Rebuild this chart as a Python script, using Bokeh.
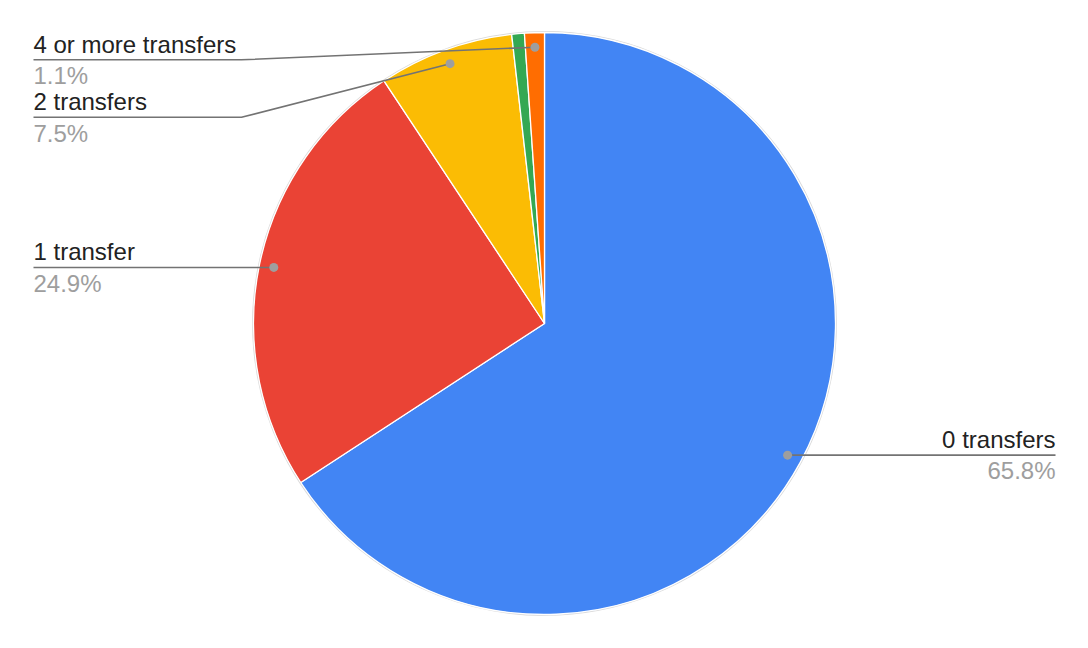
import numpy as np
from bokeh.plotting import figure
from bokeh.models import Range1d, ColumnDataSource
from bokeh.embed import file_html
from bokeh.resources import INLINE
from bokeh.core.properties import value

# ---- data ----
categories = ["0 transfers", "1 transfer", "2 transfers", "3 transfers", "4 or more transfers"]
shares = [65.8, 24.9, 7.5, 0.7, 1.1]
colors = ["#4285F4", "#EA4335", "#FBBC04", "#34A853", "#FF6D01"]
pct_labels = ["65.8%", "24.9%", "7.5%", "0.7%", "1.1%"]
shown = [True, True, True, False, True]

# ---- layout ----
W, H = 1072, 632
CX, CY, R = 544.0, 325.0, 291.0
DOT_R = 0.95 * R
FONT = value("Liberation Sans")
TXT_SHIFT = 8.0

p = figure(width=W, height=H, x_range=Range1d(0, 1072), y_range=Range1d(16, 648),
           output_backend="svg", toolbar_location=None, min_border=0,
           x_axis_location=None, y_axis_location=None)
p.grid.visible = False
p.outline_line_color = None
p.background_fill_color = "white"
p.border_fill_color = "white"

vals = np.array(shares, dtype=float)
frac = vals / vals.sum()
c1 = np.cumsum(frac)
c0 = c1 - frac
start = np.pi / 2 - 2 * np.pi * c0
end = np.pi / 2 - 2 * np.pi * c1
mid = (start + end) / 2

src = ColumnDataSource(dict(x=[CX] * len(vals), y=[CY] * len(vals),
                            start=start, end=end, color=colors))
p.circle(x=[CX], y=[CY], radius=R + 0.8, fill_color=None, line_color="#dadada", line_width=1.2)
p.wedge(x="x", y="y", radius=R, start_angle="start", end_angle="end", direction="clock",
        fill_color="color", line_color="white", line_width=1.3, source=src)

dot_x = CX + DOT_R * np.cos(mid)
dot_y = CY + DOT_R * np.sin(mid)

LEFT_X, LEFT_BEND = 33.0, 241.0
RIGHT_X = 1055.0
TOP_LIMIT = 648 - 59.3
SPACING = 57.5

idx = [i for i in range(len(vals)) if shown[i]]
left = sorted([i for i in idx if dot_x[i] < CX], key=lambda i: -dot_y[i])
right = [i for i in idx if dot_x[i] >= CX]

line_xs, line_ys = [], []
lab_x, lab_y, lab_t, lab_align = [], [], [], []
pct_x, pct_y, pct_t = [], [], []

prev = None
for i in left:
    ly = min(dot_y[i], TOP_LIMIT if prev is None else prev - SPACING)
    prev = ly
    if abs(ly - dot_y[i]) < 0.5:
        line_xs.append([LEFT_X, dot_x[i]]); line_ys.append([ly, dot_y[i]])
    else:
        line_xs.append([LEFT_X, LEFT_BEND, dot_x[i]]); line_ys.append([ly, ly, dot_y[i]])
    lab_x.append(LEFT_X); lab_y.append(ly + 7.6 + TXT_SHIFT); lab_t.append(categories[i]); lab_align.append("left")
    pct_x.append(LEFT_X); pct_y.append(ly - 24.0 + TXT_SHIFT); pct_t.append(pct_labels[i])

for i in right:
    ly = dot_y[i]
    line_xs.append([dot_x[i], RIGHT_X]); line_ys.append([ly, ly])
    lab_x.append(RIGHT_X); lab_y.append(ly + 7.6 + TXT_SHIFT); lab_t.append(categories[i]); lab_align.append("right")
    pct_x.append(RIGHT_X); pct_y.append(ly - 23.0 + TXT_SHIFT); pct_t.append(pct_labels[i])

p.multi_line(xs=line_xs, ys=line_ys, line_color="#737373", line_width=1.6)
p.scatter(x=[dot_x[i] for i in idx], y=[dot_y[i] for i in idx], size=9,
          fill_color="#9e9e9e", line_color=None)

lab_src = ColumnDataSource(dict(x=lab_x, y=lab_y, t=lab_t, a=lab_align))
p.text(x="x", y="y", text="t", text_align="a", text_baseline="alphabetic",
       text_font=FONT, text_font_size="24px", text_color="#222222", source=lab_src)
pct_src = ColumnDataSource(dict(x=pct_x, y=pct_y, t=pct_t, a=lab_align))
p.text(x="x", y="y", text="t", text_align="a", text_baseline="alphabetic",
       text_font=FONT, text_font_size="24px", text_color="#9e9e9e", source=pct_src)

open("out.html", "w").write(file_html(p, INLINE))
